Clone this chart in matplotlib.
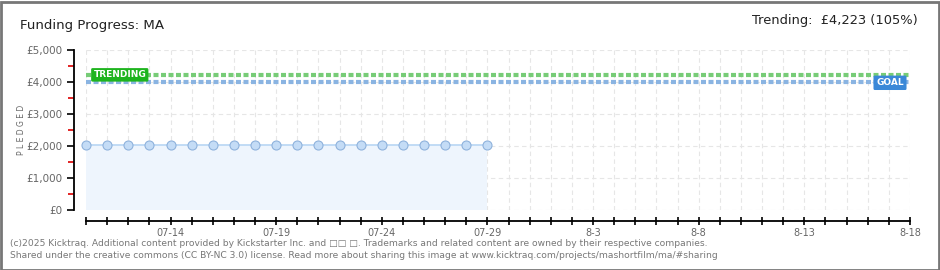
import matplotlib.pyplot as plt
import matplotlib.patches as mpatches
import numpy as np

# chart data
day_labels = ['07-10', '07-11', '07-12', '07-13', '07-14', '07-15', '07-16', '07-17', '07-18', '07-19',
              '07-20', '07-21', '07-22', '07-23', '07-24', '07-25', '07-26', '07-27', '07-28', '07-29',
              '07-30', '07-31', '8-1', '8-2', '8-3', '8-4', '8-5', '8-6', '8-7', '8-8',
              '8-9', '8-10', '8-11', '8-12', '8-13', '8-14', '8-15', '8-16', '8-17', '8-18']
pledged = [2040, 2040, 2040, 2040, 2040, 2040, 2040, 2040, 2040, 2040,
           2040, 2040, 2040, 2040, 2040, 2040, 2040, 2040, 2040, 2040]
goal = 4000
trending = 4223
y_ticks = [0, 1000, 2000, 3000, 4000, 5000]
y_tick_labels = ['£0', '£1,000', '£2,000', '£3,000', '£4,000', '£5,000']
shown_labels = ['07-14', '07-19', '07-24', '07-29', '8-3', '8-8', '8-13', '8-18']

W, H = 940, 270
fig = plt.figure(figsize=(W / 100, H / 100), dpi=100)
fig.patch.set_facecolor('white')
fig.add_artist(mpatches.Rectangle((0.5 / W, 0.5 / H), 1 - 2 / W, 1 - 2 / H, transform=fig.transFigure,
                                  fill=False, edgecolor='#777777', linewidth=2))

ax = fig.add_axes([86 / W, (H - 210) / H, (910 - 86) / W, 160 / H])
x_all = np.arange(len(day_labels))
x_data = np.arange(len(pledged))
ax.set_xlim(0, len(day_labels) - 1)
ax.set_ylim(0, 5000)

# grid
for xv in x_all:
    ax.axvline(xv, color='#e6e6e6', linestyle=(0, (4, 3)), linewidth=0.8, zorder=0)
for yv in y_ticks:
    ax.axhline(yv, color='#e6e6e6', linestyle=(0, (4, 3)), linewidth=0.8, zorder=0)

# pledged series
ax.fill_between(x_data, 0, pledged, color='#eef5fd', zorder=1, linewidth=0)
ax.plot(x_data, pledged, color='#b8d6f4', linewidth=1.2, zorder=2)
ax.plot(x_data, pledged, 'o', markersize=6.5, markerfacecolor='#c4dcf6', markeredgecolor='#8fb2dc',
        markeredgewidth=0.8, zorder=3, clip_on=False)

# goal / trending lines
ax.plot([0, len(day_labels) - 1], [trending, trending], color='#77cc77', linewidth=3,
        linestyle=(0, (1.2, 0.6)), zorder=4, clip_on=False)
ax.plot([0, len(day_labels) - 1], [goal, goal], color='#8ab4e2', linewidth=3,
        linestyle=(0, (1.2, 0.6)), zorder=4, clip_on=False)

ax.text(0.35, trending, 'TRENDING', color='white', fontsize=6.5, fontweight='bold', va='center', ha='left',
        zorder=6, bbox=dict(boxstyle='round,pad=0.25,rounding_size=0.15', facecolor='#1eb41e', edgecolor='none'))
ax.text(37.4, goal - 25, 'GOAL', color='white', fontsize=6.5, fontweight='bold', va='center', ha='left',
        zorder=6, bbox=dict(boxstyle='round,pad=0.3,rounding_size=0.15', facecolor='#3a88d8', edgecolor='none'))

# spines
for s in ['top', 'right']:
    ax.spines[s].set_visible(False)
ax.spines['left'].set_position(('outward', 9))
ax.spines['bottom'].set_position(('outward', 8))
ax.spines['left'].set_linewidth(1.3)
ax.spines['bottom'].set_linewidth(1.3)

ax.set_yticks(y_ticks)
ax.set_yticklabels(y_tick_labels)
ax.set_yticks([500, 1500, 2500, 3500, 4500], minor=True)
ax.tick_params(axis='y', which='major', direction='out', length=5, width=1.2, labelsize=7.5,
               labelcolor='#666666', pad=3)
ax.tick_params(axis='y', which='minor', direction='out', length=4, width=1.2, color='#dd0000')

ax.set_xticks(x_all)
ax.set_xticklabels([d if d in shown_labels else '' for d in day_labels])
ax.tick_params(axis='x', which='major', direction='inout', length=6, width=1.2, labelsize=7,
               labelcolor='#666666', pad=2)

fig.text(22 / W, (H - 130) / H, 'P L E D G E D', rotation=90, fontsize=5.5, color='#666666', ha='center',
         va='center')

fig.text(20 / W, (H - 25) / H, 'Funding Progress: MA', fontsize=9.6, color='#222222', ha='left', va='center')
fig.text(918 / W, (H - 21) / H, 'Trending:  £4,223 (105%)', fontsize=9.4, color='#222222', ha='right',
         va='center')

fig.text(10 / W, (H - 243) / H,
         '(c)2025 Kicktraq. Additional content provided by Kickstarter Inc. and □□ □. '
         'Trademarks and related content are owned by their respective companies.',
         fontsize=6.6, color='#777777', ha='left', va='center')
fig.text(10 / W, (H - 256) / H,
         'Shared under the creative commons (CC BY-NC 3.0) license. Read more about sharing this image at '
         'www.kicktraq.com/projects/mashortfilm/ma/#sharing',
         fontsize=6.6, color='#777777', ha='left', va='center')

fig.savefig('out.png', dpi=100, facecolor='white')
